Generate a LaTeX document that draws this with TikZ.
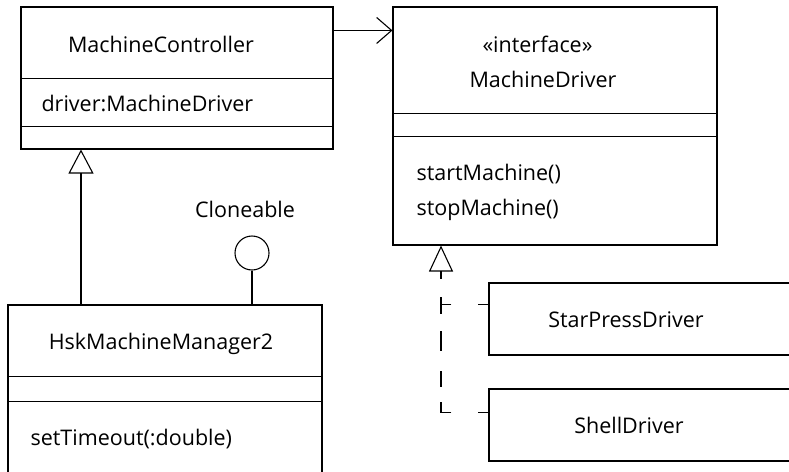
\documentclass[tikz,border=0pt]{standalone}
\usepackage{fontspec}
\setmainfont{Open Sans}
\usetikzlibrary{arrows.meta}
\begin{document}
\begin{tikzpicture}[x=1pt,y=-1pt,line width=1.1pt,
    box/.style={draw,rectangle,inner sep=0pt},
    txt/.style={inner sep=0pt,font=\fontsize{21.5}{26}\selectfont},
    lolly/.style={draw,circle,minimum size=34pt,inner sep=0pt},
    nav/.style={-{Straight Barb[length=15pt,width=26pt]}},
    gen/.style={-{Triangle[open,length=24pt,width=25pt]}},
    real/.style={dash pattern=on 10pt off 27pt on 21pt off 15pt on 16pt off 20pt on 20pt off 17pt on 17pt off 18pt on 8pt off 20pt}]
    \path[use as bounding box,clip] (0,0) rectangle (789,471);
    \node[box,minimum width=312pt,minimum height=142pt] (ctrl) at (177,78) {};
    \node[box,minimum width=324pt,minimum height=238pt] (drv) at (555,126) {};
    \node[box,minimum width=314pt,minimum height=214pt] (mgr) at (165,412) {};
    \node[box,minimum width=361pt,minimum height=72pt] (star) at (669.5,319) {};
    \node[box,minimum width=361pt,minimum height=72pt] (shell) at (669.5,425) {};
    \foreach \n/\d in {ctrl/72,ctrl/120,drv/107,drv/130,mgr/72,mgr/97}
        \draw ([yshift=-\d pt]\n.north west) -- ([yshift=-\d pt]\n.north east);
    \node[txt,anchor=base] (ctrlname) at (161,52) {MachineController};
    \node[txt,anchor=base west] (ctrlattr) at (41,111) {driver:MachineDriver};
    \node[txt,anchor=base] (drvstereo) at (537.5,52) {«interface»};
    \node[txt,anchor=base] (drvname) at (543,87) {MachineDriver};
    \node[txt,anchor=base west] (drvstart) at (416,180) {startMachine()};
    \node[txt,anchor=base west] (drvstop) at (416,215) {stopMachine()};
    \node[txt,anchor=base] (mgrname) at (161,349) {HskMachineManager2};
    \node[txt,anchor=base west] (mgrop) at (30,445) {setTimeout(:double)};
    \node[txt,anchor=base] (starname) at (626,327) {StarPressDriver};
    \node[txt,anchor=base] (shellname) at (629,433) {ShellDriver};
    \node[lolly] (clone) at (252,253) {};
    \node[txt,anchor=base] (clonename) at (245,217) {Cloneable};
    \draw[nav] ([yshift=-24pt]ctrl.north east) -- ([yshift=-24pt]drv.north west);
    \coordinate (genx) at (81,0);
    \draw[gen] (mgr.north -| genx) -- (ctrl.south -| genx);
    \draw (clone.south) -- (clone.south |- mgr.north);
    \coordinate (realx) at (441,0);
    \coordinate (starin) at ([yshift=-22pt]star.north west);
    \coordinate (shellin) at ([yshift=-24pt]shell.north west);
    \draw[dash pattern=on 10pt off 27pt on 11pt off 20pt] (starin) -- (starin -| realx);
    \draw[real,-{Triangle[open,length=26pt,width=24pt]}] (shellin) -| (drv.south -| realx);
\end{tikzpicture}
\end{document}
